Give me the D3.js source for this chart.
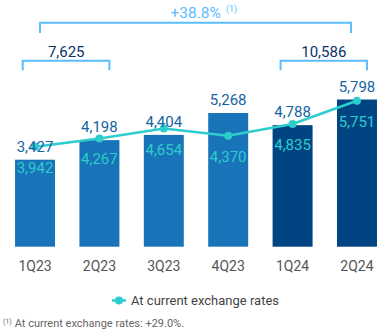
<!DOCTYPE html>
<html>
<head>
<meta charset="utf-8">
<script src="https://cdn.jsdelivr.net/npm/d3@7"></script>
<style>
  body { margin: 0; background: #fff; }
  svg { display: block; font-family: Roboto, "Open Sans", sans-serif; }
</style>
</head>
<body>
<svg id="chart" width="388" height="330"></svg>
<script>
var quarters = ['1Q23', '2Q23', '3Q23', '4Q23', '1Q24', '2Q24'];
var barValues = [3427, 4198, 4404, 5268, 4788, 5798];
var lineValues = [3942, 4267, 4654, 4370, 4835, 5751];
var barColors = ['#1973b8', '#1973b8', '#1973b8', '#1973b8', '#004481', '#004481'];
var pairTotals = ['7,625', '10,586'];
var growthLabel = '+38.8%';
var legendLabel = 'At current exchange rates';
var footnote = 'At current exchange rates: +29.0%.';

var fmt = d3.format(',');
var svg = d3.select('#chart');

var x = d3.scaleBand()
    .domain(quarters)
    .range([2.8, 389.2])
    .paddingInner(0.379)
    .paddingOuter(0.19);
var y = d3.scaleLinear()
    .domain([0, 6000])
    .range([246.7, 94.4]);

var teal = '#2dcccd';
var bracketColor = '#5bbeff';
var cx = function (q) { return x(q) + x.bandwidth() / 2; };

// bars
svg.append('g').selectAll('rect')
    .data(quarters)
    .enter().append('rect')
    .attr('x', function (d) { return x(d); })
    .attr('y', function (d, i) { return y(barValues[i]); })
    .attr('width', x.bandwidth())
    .attr('height', function (d, i) { return y(0) - y(barValues[i]); })
    .attr('fill', function (d, i) { return barColors[i]; });

// line
var line = d3.line()
    .x(function (d, i) { return cx(quarters[i]); })
    .y(function (d) { return y(d); });
svg.append('path')
    .attr('d', line(lineValues))
    .attr('fill', 'none')
    .attr('stroke', teal)
    .attr('stroke-width', 2.5);
svg.append('g').selectAll('circle')
    .data(lineValues)
    .enter().append('circle')
    .attr('cx', function (d, i) { return cx(quarters[i]); })
    .attr('cy', function (d) { return y(d); })
    .attr('r', 4)
    .attr('fill', teal);

// bar value labels
svg.append('g').selectAll('text')
    .data(barValues)
    .enter().append('text')
    .attr('x', function (d, i) { return cx(quarters[i]); })
    .attr('y', function (d) { return y(d) - 8; })
    .attr('text-anchor', 'middle')
    .attr('font-size', 15)
    .attr('fill', '#1464a5')
    .text(function (d) { return fmt(d); });

// line value labels
svg.append('g').selectAll('text')
    .data(lineValues)
    .enter().append('text')
    .attr('x', function (d, i) { return cx(quarters[i]); })
    .attr('y', function (d) { return y(d) + 26; })
    .attr('text-anchor', 'middle')
    .attr('font-size', 15)
    .attr('fill', teal)
    .text(function (d) { return fmt(d); });

// category axis labels
svg.append('g').selectAll('text')
    .data(quarters)
    .enter().append('text')
    .attr('x', function (d) { return cx(d); })
    .attr('y', 271)
    .attr('text-anchor', 'middle')
    .attr('font-size', 14)
    .attr('fill', '#555')
    .text(function (d) { return d; });

// brackets
function bracket(x1, x2, yTop, yBot) {
    svg.append('path')
        .attr('d', 'M' + x1 + ',' + yBot + 'V' + yTop + 'H' + x2 + 'V' + yBot)
        .attr('fill', 'none')
        .attr('stroke', bracketColor)
        .attr('stroke-width', 2);
}
bracket(cx('1Q23') - 12.3, cx('2Q23') + 10, 60.7, 70.3);
bracket(cx('1Q24') - 12, cx('2Q24') + 10, 60.7, 70.3);
bracket(cx('1Q23') + 5, cx('2Q24') - 6, 22.7, 33);

svg.append('text')
    .attr('x', (cx('1Q23') + cx('2Q23')) / 2 - 1)
    .attr('y', 56.5)
    .attr('text-anchor', 'middle')
    .attr('font-size', 15)
    .attr('fill', '#0a3468')
    .text(pairTotals[0]);
svg.append('text')
    .attr('x', (cx('1Q24') + cx('2Q24')) / 2 - 1)
    .attr('y', 56.5)
    .attr('text-anchor', 'middle')
    .attr('font-size', 15)
    .attr('fill', '#0a3468')
    .text(pairTotals[1]);

var g = svg.append('text')
    .attr('x', 170.5)
    .attr('y', 17.5)
    .attr('font-size', 15.5)
    .attr('fill', bracketColor);
g.append('tspan').text(growthLabel);
g.append('tspan').attr('font-size', 9).attr('dx', 5).attr('dy', -6).text('(1)');

// legend
svg.append('line')
    .attr('x1', 112).attr('x2', 126)
    .attr('y1', 300.5).attr('y2', 300.5)
    .attr('stroke', teal).attr('stroke-width', 2.5);
svg.append('circle')
    .attr('cx', 119).attr('cy', 300.5).attr('r', 4)
    .attr('fill', teal);
svg.append('text')
    .attr('x', 131)
    .attr('y', 304.5)
    .attr('font-size', 13)
    .attr('fill', '#444')
    .text(legendLabel);

// footnote
var fn = svg.append('text')
    .attr('x', 3)
    .attr('y', 326.5)
    .attr('font-size', 11)
    .attr('fill', '#666');
fn.append('tspan').attr('font-size', 7).attr('dy', -3).text('(1)');
fn.append('tspan').attr('dx', 3).attr('dy', 3).text(footnote);
</script>
</body>
</html>
